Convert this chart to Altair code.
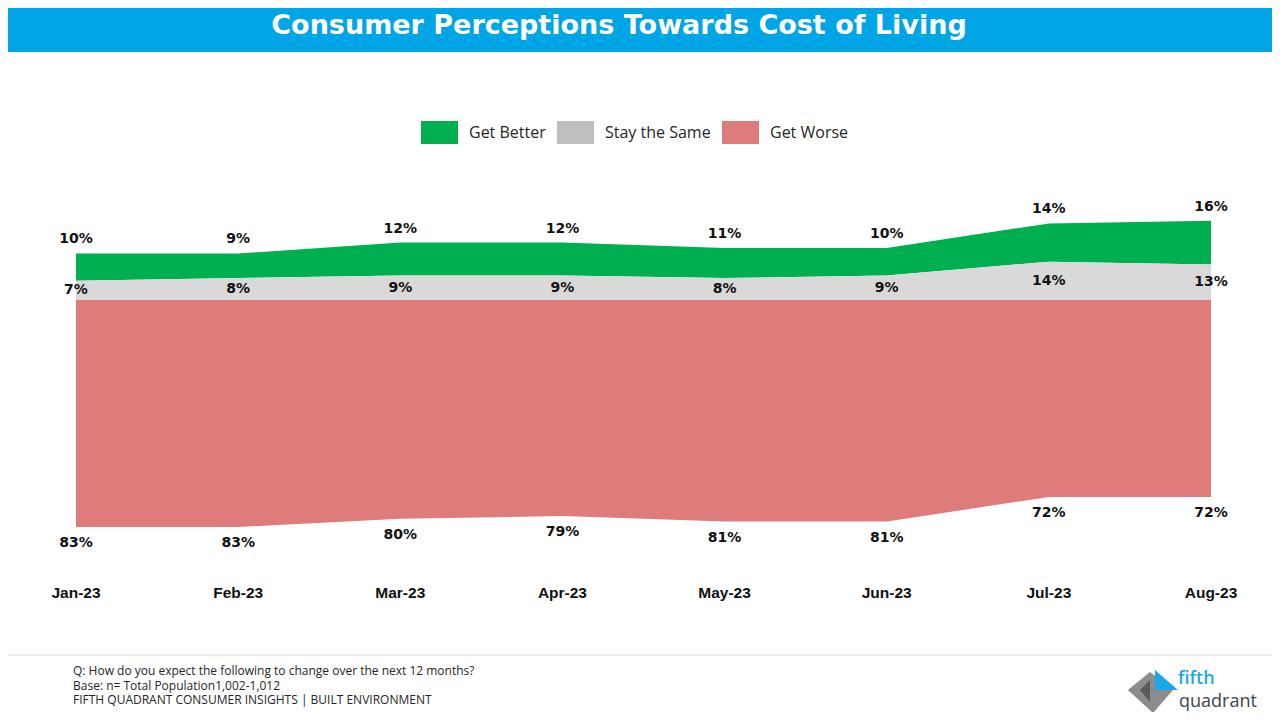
import altair as alt
import pandas as pd

# ---------------- data ----------------
months = ["Jan-23", "Feb-23", "Mar-23", "Apr-23", "May-23", "Jun-23", "Jul-23", "Aug-23"]
get_better = [10, 9, 12, 12, 11, 10, 14, 16]
stay_same = [7, 8, 9, 9, 8, 9, 14, 13]
get_worse = [83, 83, 80, 79, 81, 81, 72, 72]
series_names = ["Get Better", "Stay the Same", "Get Worse"]
stack_rank = {"Get Worse": 0, "Stay the Same": 1, "Get Better": 2}
area_colors = ["#00B050", "#D9D9D9", "#E07B7B"]
legend_colors = ["#00B050", "#BFBFBF", "#E07B7B"]
title_text = "Consumer Perceptions Towards Cost of Living"
footer_lines = [
    "Q: How do you expect the following to change over the next 12 months?",
    "Base: n= Total Population1,002-1,012",
    "FIFTH QUADRANT CONSUMER INSIGHTS | BUILT ENVIRONMENT",
]

rows = []
for i, m in enumerate(months):
    for name, vals in (("Get Better", get_better), ("Stay the Same", stay_same), ("Get Worse", get_worse)):
        rows.append({"month": m, "series": name, "value": vals[i], "rank": stack_rank[name]})
df = pd.DataFrame(rows)

W, H = 1264, 704
x_scale = alt.Scale(type="point", domain=months, range=[68, 1203], padding=0)
y_scale = alt.Scale(domain=[-150.64, 106.76], nice=False, zero=False)

base = (
    alt.Chart(df)
    .transform_calculate(
        signed="datum.series === 'Get Worse' ? -datum.value : datum.value",
        label="datum.value + '%'",
    )
    .transform_stack(
        stack="signed",
        groupby=["month"],
        as_=["y0", "y1"],
        sort=[alt.SortField("rank", order="ascending")],
    )
    .transform_calculate(mid="(datum.y0 + datum.y1) / 2")
)

X = alt.X("month:O", scale=x_scale, axis=None)

area = base.mark_area(interpolate="linear").encode(
    x=X,
    y=alt.Y("y0:Q", scale=y_scale, axis=None),
    y2="y1:Q",
    color=alt.Color("series:N", scale=alt.Scale(domain=series_names, range=area_colors), legend=None),
)

lbl_props = dict(font="DejaVu Sans", fontSize=14, fontWeight="bold", color="#111111", baseline="middle", align="center")

better_lbl = base.transform_filter("datum.series === 'Get Better'").mark_text(dy=-14, **lbl_props).encode(
    x=X, y=alt.Y("y1:Q", scale=y_scale, axis=None), text="label:N"
)
same_lbl = base.transform_filter("datum.series === 'Stay the Same'").mark_text(dy=0, **lbl_props).encode(
    x=X, y=alt.Y("mid:Q", scale=y_scale, axis=None), text="label:N"
)
worse_lbl = base.transform_filter("datum.series === 'Get Worse'").mark_text(dy=16, **lbl_props).encode(
    x=X, y=alt.Y("y1:Q", scale=y_scale, axis=None), text="label:N"
)

month_df = pd.DataFrame({"month": months})
month_lbl = alt.Chart(month_df).mark_text(
    font="Liberation Sans", fontSize=15.5, fontWeight="bold", color="#111111", baseline="middle", align="center"
).encode(x=X, y=alt.value(585), text="month:N")

# legend (driven by the colour scale domain, empty data)
legend_layer = alt.Chart(df).transform_filter("false").mark_square(opacity=1).encode(
    color=alt.Color(
        "series:N",
        scale=alt.Scale(domain=series_names, range=legend_colors),
        legend=alt.Legend(
            orient="none",
            legendX=413,
            legendY=106,
            direction="horizontal",
            title=None,
            symbolType="M-1,-0.62H1V0.62H-1Z",
            symbolSize=1369,
            symbolStrokeWidth=0,
            symbolOpacity=1,
            labelFont="Open Sans",
            labelFontSize=16,
            labelColor="#262626",
            labelOffset=11,
            columnPadding=11,
            padding=0,
        ),
    )
)

title_df = pd.DataFrame({"title": [title_text]})
banner = alt.Chart(title_df).mark_rect(color="#00A5E6").encode(
    x=alt.value(0), x2=alt.value(W), y=alt.value(0), y2=alt.value(44)
)
title = alt.Chart(title_df).mark_text(
    font="DejaVu Sans", fontSize=27, fontWeight="bold", color="white", align="center", baseline="alphabetic"
).encode(x=alt.value(611), y=alt.value(25.5), text="title:N")

one = pd.DataFrame({"a": [0]})
sep = alt.Chart(one).mark_rule(color="#D9D9D9", strokeWidth=1).encode(
    x=alt.value(0), x2=alt.value(W), y=alt.value(647)
)
footer = alt.Chart(one).mark_text(
    text=footer_lines, font="Open Sans", fontSize=12, color="#262626", align="left", baseline="top", lineHeight=14.5
).encode(x=alt.value(65), y=alt.value(658))

logo_gray = alt.Chart(one).mark_point(
    shape="M-22,-2L0,-20L23,-2L3,21Z", size=4, filled=True, fill="#8C8C8C", opacity=1, strokeWidth=0
).encode(x=alt.value(1142), y=alt.value(684))
logo_dark = alt.Chart(one).mark_point(
    shape="M-10,-2L0,-12L0,10Z", size=4, filled=True, fill="#5A5A5A", opacity=1, strokeWidth=0
).encode(x=alt.value(1142), y=alt.value(684))
logo_blue = alt.Chart(one).mark_point(
    shape="M-11,-11L12,9L-11,9Z", size=4, filled=True, fill="#1AA9E8", opacity=1, strokeWidth=0
).encode(x=alt.value(1158), y=alt.value(673))
logo_fifth = alt.Chart(one).mark_text(
    text="fifth", font="Open Sans", fontSize=18, fontWeight=600, color="#1AA9E8", align="left", baseline="alphabetic"
).encode(x=alt.value(1170), y=alt.value(676))
logo_quad = alt.Chart(one).mark_text(
    text="quadrant", font="Open Sans", fontSize=18, color="#3D4350", align="left", baseline="alphabetic"
).encode(x=alt.value(1171), y=alt.value(699))

chart = (
    alt.layer(
        banner, title, area, better_lbl, same_lbl, worse_lbl, month_lbl, legend_layer,
        sep, footer, logo_gray, logo_dark, logo_blue, logo_fifth, logo_quad,
    )
    .resolve_scale(color="independent")
    .properties(width=W, height=H, autosize=alt.AutoSizeParams(type="none"), padding=0, background="white")
    .configure_view(stroke=None)
)

chart.save("out.html", embed_options={"renderer": "svg", "actions": False})
